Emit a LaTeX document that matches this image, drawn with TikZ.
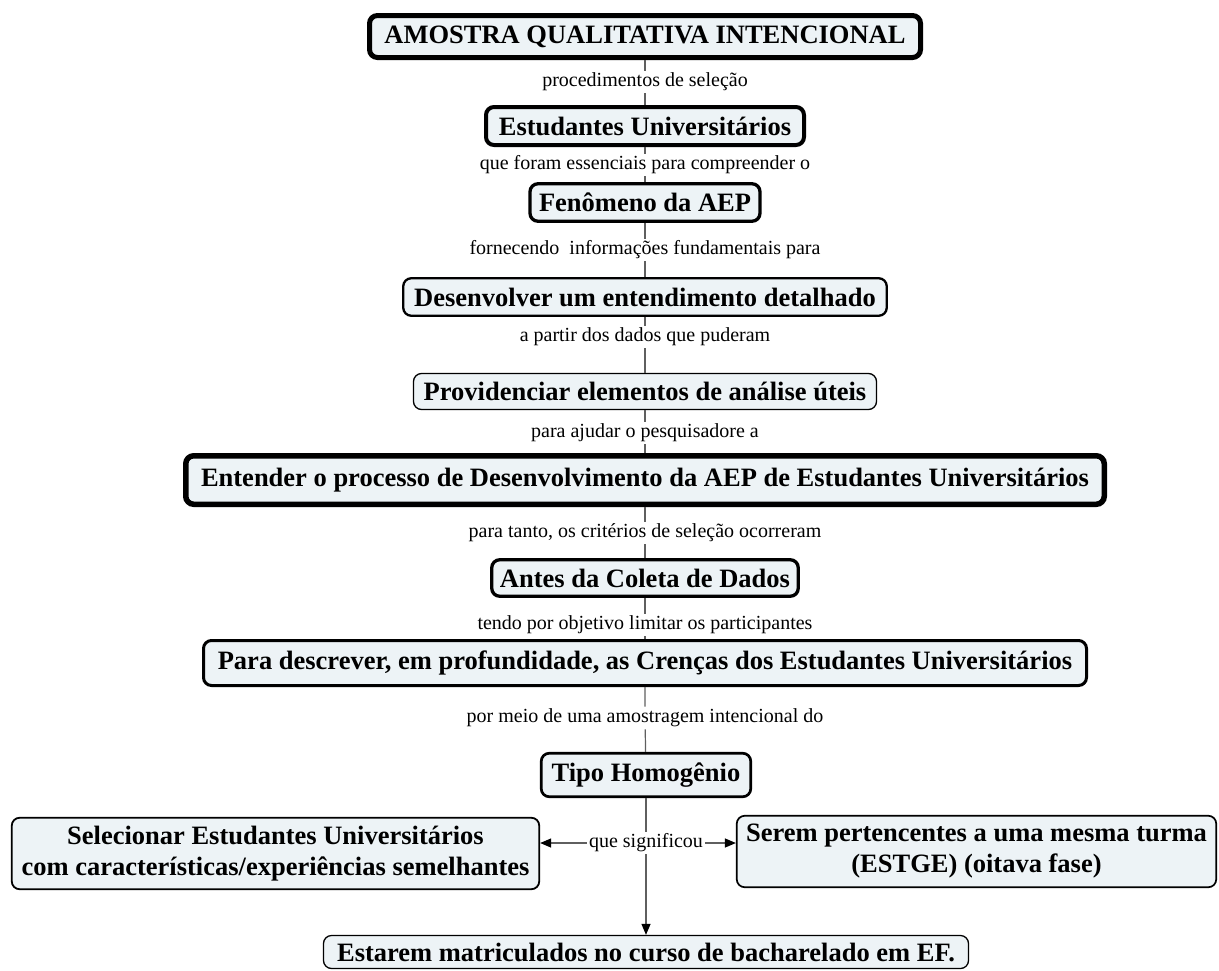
\documentclass[tikz,border=0pt]{standalone}
\usepackage{fontspec}
\setmainfont{Liberation Serif}
\usetikzlibrary{arrows.meta}

\definecolor{boxfill}{RGB}{237,243,246}
\definecolor{linkgray}{RGB}{95,95,95}

\newcommand{\boxfont}{\fontsize{26.5}{31}\selectfont\bfseries}
\newcommand{\linkfont}{\fontsize{20}{23}\selectfont}

\tikzset{
  concept/.style={draw=black, fill=boxfill, rounded corners=8pt, inner sep=0pt,
    font=\boxfont, align=center, text=black},
  linkword/.style={font=\linkfont, inner sep=2pt, text=black},
  conn/.style={draw=linkgray, line width=1.2pt},
  arrowconn/.style={conn, -{Triangle[length=11pt,width=9pt,color=black]}}
}

\begin{document}
\begin{tikzpicture}[x=1pt,y=-1pt]
\useasboundingbox (0,0) rectangle (1219,970);

% concepts of the main column
\node[concept, line width=5pt, minimum width=551pt, minimum height=42pt] (amostra) at (645,36.5) {AMOSTRA QUALITATIVA INTENCIONAL};
\node[concept, line width=4pt, minimum width=318pt, minimum height=38pt] (estud) at (645,126) {Estudantes Universitários};
\node[concept, line width=3.3pt, minimum width=230pt, minimum height=37.5pt] (fenom) at (645,202.5) {Fenômeno da AEP};
\node[concept, line width=2.3pt, minimum width=483.5pt, minimum height=37.5pt] (desenv) at (645,297) {Desenvolver um entendimento detalhado};
\node[concept, line width=1.3pt, minimum width=463pt, minimum height=36pt] (provid) at (645,391.5) {Providenciar elementos de análise úteis};
\node[concept, line width=5.5pt, minimum width=918.5pt, minimum height=48.5pt] (entender) at (645,480) {Entender o processo de Desenvolvimento da AEP de Estudantes Universitários};
\node[concept, line width=3.3pt, minimum width=306.5pt, minimum height=36.5pt] (antes) at (645,578) {Antes da Coleta de Dados};
\node[concept, line width=3pt, minimum width=883pt, minimum height=45pt] (descrever) at (645,663) {Para descrever, em profundidade, as Crenças dos Estudantes Universitários};
\node[concept, line width=2.7pt, minimum width=209.5pt, minimum height=43.5pt] (tipo) at (646,775) {Tipo Homogênio};

% concepts reached from "que significou"
\node[concept, line width=1.8pt, minimum width=527.5pt, minimum height=71.5pt] (selec) at (275.5,853.5) {Selecionar Estudantes Universitários\\com características/experiências semelhantes};
\node[concept, line width=1.7pt, minimum width=479.5pt, minimum height=71.5pt] (serem) at (976.5,851.5) {Serem pertencentes a uma mesma turma\\(ESTGE) (oitava fase)};
\node[concept, line width=1.3pt, minimum width=645pt, minimum height=33pt] (estarem) at (646,952) {Estarem matriculados no curso de bacharelado em EF.};

% linking phrases
\node[linkword] (l1) at (645,82) {procedimentos de seleção};
\node[linkword] (l2) at (645,165) {que foram essenciais para compreender o};
\node[linkword] (l3) at (645,250) {fornecendo~ informações fundamentais para};
\node[linkword] (l4) at (645,337) {a partir dos dados que puderam};
\node[linkword] (l5) at (645,433) {para ajudar o pesquisadore a};
\node[linkword] (l6) at (645,533) {para tanto, os critérios de seleção ocorreram};
\node[linkword] (l7) at (645,625) {tendo por objetivo limitar os participantes};
\node[linkword] (l8) at (645,718) {por meio de uma amostragem intencional do};
\node[linkword] (l9) at (646,843) {que significou};

% links
\draw[conn] (amostra) -- (l1) -- (estud);
\draw[conn] (estud) -- (l2) -- (fenom);
\draw[conn] (fenom) -- (l3) -- (desenv);
\draw[conn] (desenv) -- (l4) -- (provid);
\draw[conn] (provid) -- (l5) -- (entender);
\draw[conn] (entender) -- (l6) -- (antes);
\draw[conn] (antes) -- (l7) -- (descrever);
\draw[conn] (descrever) -- (l8) -- (tipo);
\draw[conn] (tipo) -- (l9);
\draw[arrowconn] (l9.west) -- (l9.west -| selec.east);
\draw[arrowconn] (l9.east) -- (l9.east -| serem.west);
\draw[arrowconn] (l9.south) -- (estarem.north);

\end{tikzpicture}
\end{document}
